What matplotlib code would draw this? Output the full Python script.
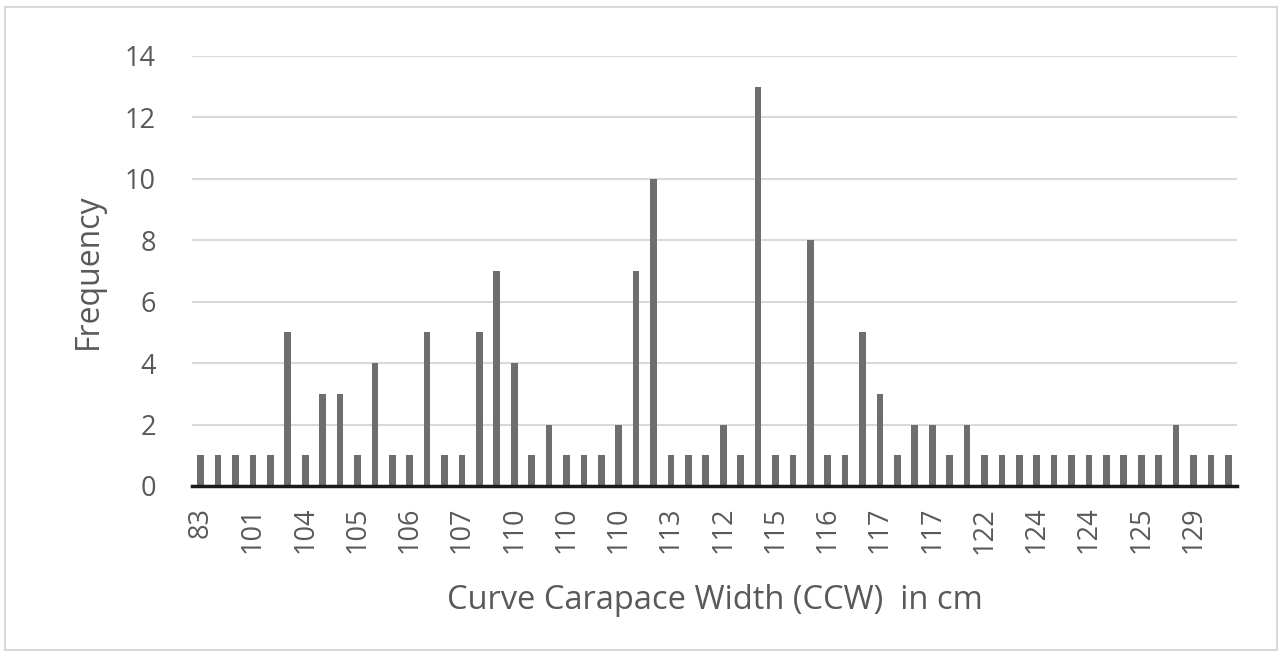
import matplotlib
matplotlib.use("Agg")
import matplotlib.pyplot as plt
from matplotlib.patches import Rectangle

frequency = [1, 1, 1, 1, 1, 5, 1, 3, 3, 1,
             4, 1, 1, 5, 1, 1, 5, 7, 4, 1,
             2, 1, 1, 1, 2, 7, 10, 1, 1, 1,
             2, 1, 13, 1, 1, 8, 1, 1, 5, 3,
             1, 2, 2, 1, 2, 1, 1, 1, 1, 1,
             1, 1, 1, 1, 1, 1, 2, 1, 1, 1]
shown_labels = ["83", "101", "104", "105", "106", "107", "110", "110", "110", "113",
                "112", "115", "116", "117", "117", "122", "124", "124", "125", "129"]
label_step = 3
y_ticks = [0, 2, 4, 6, 8, 10, 12, 14]

plt.rcParams['font.family'] = ['Open Sans', 'DejaVu Sans']
txt = '#595959'

fig = plt.figure(figsize=(12.82, 6.57), dpi=100)
fig.patches.append(Rectangle((5/1282, 7/657), 1272/1282, 643/657, transform=fig.transFigure,
                             fill=False, edgecolor='#d9d9d9', linewidth=1.5))
ax = fig.add_axes([192/1282, 1 - 486/657, (1237-192)/1282, (486-56)/657])

x = list(range(len(frequency)))
ax.bar(x, frequency, width=0.38, color='#6e6e6e', zorder=3)
ax.set_xlim(-0.5, len(frequency) - 0.5)
ax.set_ylim(0, 14)
ax.set_yticks(y_ticks)
ax.set_yticklabels([str(t) for t in y_ticks], fontsize=19.5, color=txt)
ax.set_xticks(x[::label_step])
ax.set_xticklabels(shown_labels, rotation=90, fontsize=19.5, color=txt)
ax.tick_params(axis='both', length=0)
ax.tick_params(axis='y', pad=26)
ax.tick_params(axis='x', pad=15)
ax.grid(axis='y', color='#d9d9d9', linewidth=1.5, zorder=0)
for s in ['top', 'right', 'left']:
    ax.spines[s].set_visible(False)
ax.spines['bottom'].set_color('#1a1a1a')
ax.spines['bottom'].set_linewidth(2.5)
ax.spines['bottom'].set_zorder(4)
ax.set_ylabel('Frequency', fontsize=23, color=txt, labelpad=14)
ax.set_xlabel('Curve Carapace Width (CCW)  in cm', fontsize=23.5, color=txt, labelpad=22)

fig.savefig('out.png', dpi=100)
